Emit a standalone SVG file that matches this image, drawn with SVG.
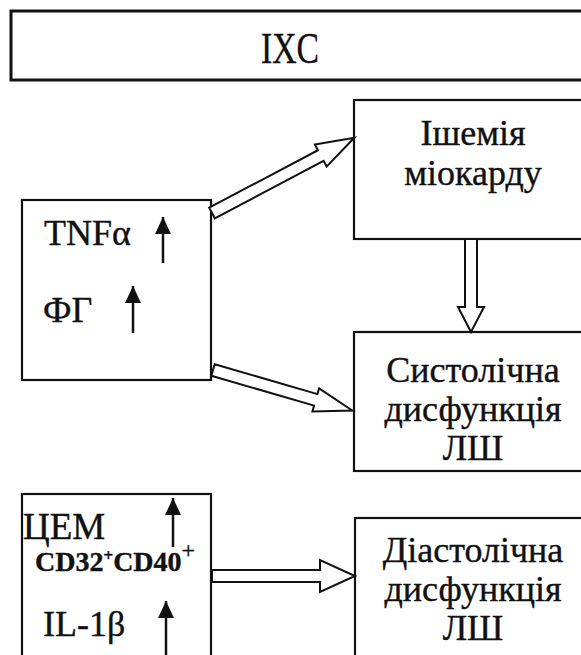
<svg xmlns="http://www.w3.org/2000/svg" width="581" height="655" viewBox="0 0 581 655">
<style>
.box{fill:#fff;stroke:#111;stroke-width:2.2}
.t{font-family:"Liberation Serif","Times New Roman",serif;fill:#111;font-size:36px;stroke:#111;stroke-width:0.4}
.c{text-anchor:middle}
.blk{fill:#fff;stroke:#111;stroke-width:2;stroke-linejoin:miter}
.up{stroke:#111;stroke-width:2.5;fill:none;marker-end:url(#ah)}
</style>
<defs>
<marker id="ah" markerUnits="userSpaceOnUse" markerWidth="18" markerHeight="18" refX="17" refY="8" orient="auto">
<path d="M0,0 L17,8 L0,16 Z" fill="#111"/>
</marker>
</defs>
<g id="ixc">
<rect class="box" x="11" y="11" width="590" height="69" style="stroke-width:3"/>
<text class="t c" x="290" y="63" style="font-size:44px" textLength="58" lengthAdjust="spacingAndGlyphs">IXC</text>
</g>
<g id="markers">
<rect class="box" x="22" y="200" width="189" height="180"/>
<text class="t" x="44" y="245">TNFα</text>
<text class="t" x="43" y="322">ФГ</text>
<line class="up" x1="163" y1="263" x2="163" y2="217"/>
<line class="up" x1="133" y1="333" x2="133" y2="286"/>
</g>
<g id="ischemia">
<rect class="box" x="354" y="100" width="250" height="139"/>
<text class="t c" x="473" y="145">Ішемія</text>
<text class="t c" x="473" y="185">міокарду</text>
</g>
<g id="systolic">
<rect class="box" x="354" y="332" width="250" height="139"/>
<text class="t c" x="473" y="382">Систолічна</text>
<text class="t c" x="473" y="421">дисфункція</text>
<text class="t c" x="473" y="460">ЛШ</text>
</g>
<g id="cem">
<rect class="box" x="22" y="494" width="189" height="180"/>
<text class="t" x="23" y="539" style="font-size:37px">ЦЕМ</text>
<text class="t" x="35" y="571" style="font-size:28px;font-weight:bold">CD32<tspan font-size="17" dy="-10">+</tspan><tspan dy="10">CD40</tspan><tspan font-size="24" font-weight="normal" dy="-13">+</tspan></text>
<text class="t" x="43" y="636">IL-1β</text>
<line class="up" x1="173" y1="547" x2="173" y2="498"/>
<line class="up" x1="166" y1="660" x2="166" y2="601"/>
</g>
<g id="diastolic">
<rect class="box" x="355" y="518" width="250" height="160"/>
<text class="t c" x="473" y="562">Діастолічна</text>
<text class="t c" x="473" y="601">дисфункція</text>
<text class="t c" x="473" y="640">ЛШ</text>
</g>
<g id="connectors">
<polygon class="blk" transform="translate(212,213) rotate(-27.85)" points="0,-6 123,-6 123,-12.5 161,0 123,12.5 123,6 0,6"/>
<polygon class="blk" transform="translate(213,370) rotate(16.2)" points="0,-6 107,-6 107,-12 145,0 107,12 107,6 0,6"/>
<polygon class="blk" points="465,239 477,239 477,307 484,307 471,332 458,307 465,307"/>
<polygon class="blk" points="212,570 320,570 320,560 355,576 320,592 320,582 212,582"/>
</g>
</svg>
